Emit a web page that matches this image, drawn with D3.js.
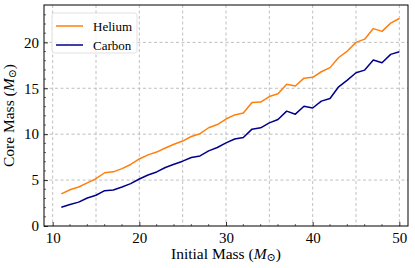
<!DOCTYPE html>
<html>
<head>
<meta charset="utf-8">
<script src="https://cdn.jsdelivr.net/npm/d3@7"></script>
<style>
  body { margin: 0; background: #fff; }
</style>
</head>
<body>
<div id="chart"></div>
<script>
// initial masses (M_sun)
const masses = d3.range(11, 51);
// core masses
const helium = [3.5, 3.95, 4.25, 4.7, 5.15, 5.8, 5.9, 6.25, 6.7, 7.3,
    7.75, 8.05, 8.5, 8.9, 9.25, 9.75, 10.05, 10.7, 11.05, 11.65,
    12.1, 12.3, 13.45, 13.5, 14.1, 14.4, 15.45, 15.25, 16.1, 16.2,
    16.8, 17.25, 18.35, 19.05, 20.0, 20.35, 21.5, 21.2, 22.1, 22.6];
const carbon = [2.05, 2.35, 2.6, 3.05, 3.35, 3.85, 3.93, 4.25, 4.62, 5.12,
    5.56, 5.89, 6.37, 6.73, 7.06, 7.46, 7.63, 8.18, 8.55, 9.05,
    9.47, 9.64, 10.55, 10.69, 11.23, 11.6, 12.51, 12.18, 13.05, 12.85,
    13.6, 13.89, 15.16, 15.89, 16.69, 16.98, 18.07, 17.78, 18.69, 18.98];
const seriesNames = ["Helium", "Carbon"];
const seriesColors = ["#ff7f0e", "#00008b"];
const xTicks = [10, 20, 30, 40, 50];
const yTicks = [0, 5, 10, 15, 20];

const FONT = "'Liberation Serif', 'Times New Roman', 'DejaVu Serif', serif";
const W = 415, H = 268;
const margin = { top: 5, right: 7, bottom: 42, left: 44 };
const width = W - margin.left - margin.right;
const height = H - margin.top - margin.bottom;

const svg = d3.select("#chart").append("svg")
    .attr("width", W).attr("height", H)
    .style("font-family", FONT);
const g = svg.append("g")
    .attr("transform", "translate(" + margin.left + "," + margin.top + ")");

const x = d3.scaleLinear().domain([9, 51]).range([0, width]);
const y = d3.scaleLinear().domain([0, 24.07]).range([height, 0]);

// grid
const gridX = d3.range(10, 51, 5), gridY = d3.range(5, 24, 5);
g.selectAll(".gx").data(gridX).enter().append("line")
    .attr("x1", d => x(d)).attr("x2", d => x(d))
    .attr("y1", 0).attr("y2", height)
    .attr("stroke", "#b0b0b0").attr("stroke-width", 0.8)
    .attr("stroke-dasharray", "3,2.5");
g.selectAll(".gy").data(gridY).enter().append("line")
    .attr("x1", 0).attr("x2", width)
    .attr("y1", d => y(d)).attr("y2", d => y(d))
    .attr("stroke", "#b0b0b0").attr("stroke-width", 0.8)
    .attr("stroke-dasharray", "3,2.5");

// lines
const line = d3.line()
    .x((d, i) => x(masses[i]))
    .y(d => y(d));
[helium, carbon].forEach((s, k) => {
    g.append("path")
        .datum(s)
        .attr("d", line)
        .attr("fill", "none")
        .attr("stroke", seriesColors[k])
        .attr("stroke-width", 1.5)
        .attr("stroke-linejoin", "round");
});

// axes (ticks inward)
const xAxis = d3.axisBottom(x).tickValues(xTicks).tickSizeInner(-4).tickSizeOuter(0).tickPadding(6);
const yAxis = d3.axisLeft(y).tickValues(yTicks).tickSizeInner(-4).tickSizeOuter(0).tickPadding(6);
const gx = g.append("g").attr("transform", "translate(0," + height + ")").call(xAxis);
const gy = g.append("g").call(yAxis);
[gx, gy].forEach(a => {
    a.attr("font-family", null).attr("font-size", null);
    a.select(".domain").remove();
    a.selectAll("text").style("font-size", "15px").style("font-family", FONT).style("fill", "#000");
    a.selectAll("line").attr("stroke", "#000").attr("stroke-width", 0.8);
});
gy.selectAll("text").attr("dx", "1");

// minor ticks
g.selectAll(".mx").data(d3.range(10, 51, 2).filter(d => d % 10 !== 0)).enter().append("line")
    .attr("x1", d => x(d)).attr("x2", d => x(d))
    .attr("y1", height).attr("y2", height - 2)
    .attr("stroke", "#000").attr("stroke-width", 0.6);
g.selectAll(".my").data(d3.range(1, 24).filter(d => d % 5 !== 0)).enter().append("line")
    .attr("x1", 0).attr("x2", 2)
    .attr("y1", d => y(d)).attr("y2", d => y(d))
    .attr("stroke", "#000").attr("stroke-width", 0.6);

// frame
g.append("rect").attr("width", width).attr("height", height)
    .attr("fill", "none").attr("stroke", "#000").attr("stroke-width", 1);

// axis labels
function massLabel(sel, txt) {
    sel.append("tspan").text(txt + " (");
    sel.append("tspan").style("font-style", "italic").text("M");
    sel.append("tspan").style("font-size", "11px").attr("dy", 2).text("\u2299");
    sel.append("tspan").attr("dy", -2).text(")");
}
const xl = svg.append("text")
    .attr("x", margin.left + width / 2).attr("y", 259)
    .attr("text-anchor", "middle").style("font-size", "15.5px").style("font-family", FONT);
massLabel(xl, "Initial Mass");

const yl = svg.append("text")
    .attr("transform", "translate(14," + (margin.top + height / 2) + ") rotate(-90)")
    .attr("text-anchor", "middle").style("font-size", "15.5px").style("font-family", FONT);
massLabel(yl, "Core Mass");

// legend
const leg = g.append("g").attr("transform", "translate(8,8)");
leg.append("rect").attr("width", 85).attr("height", 40).attr("rx", 2.5)
    .attr("fill", "#fff").attr("fill-opacity", 0.8)
    .attr("stroke", "#d9d9d9").attr("stroke-width", 0.8);
seriesNames.forEach((name, i) => {
    const row = leg.append("g").attr("transform", "translate(0," + (13 + i * 19) + ")");
    row.append("line").attr("x1", 4).attr("x2", 31)
        .attr("stroke", seriesColors[i]).attr("stroke-width", 1.5);
    row.append("text").attr("x", 41).attr("y", 4.5)
        .style("font-size", "13px").style("font-family", FONT).text(name);
});
</script>
</body>
</html>
